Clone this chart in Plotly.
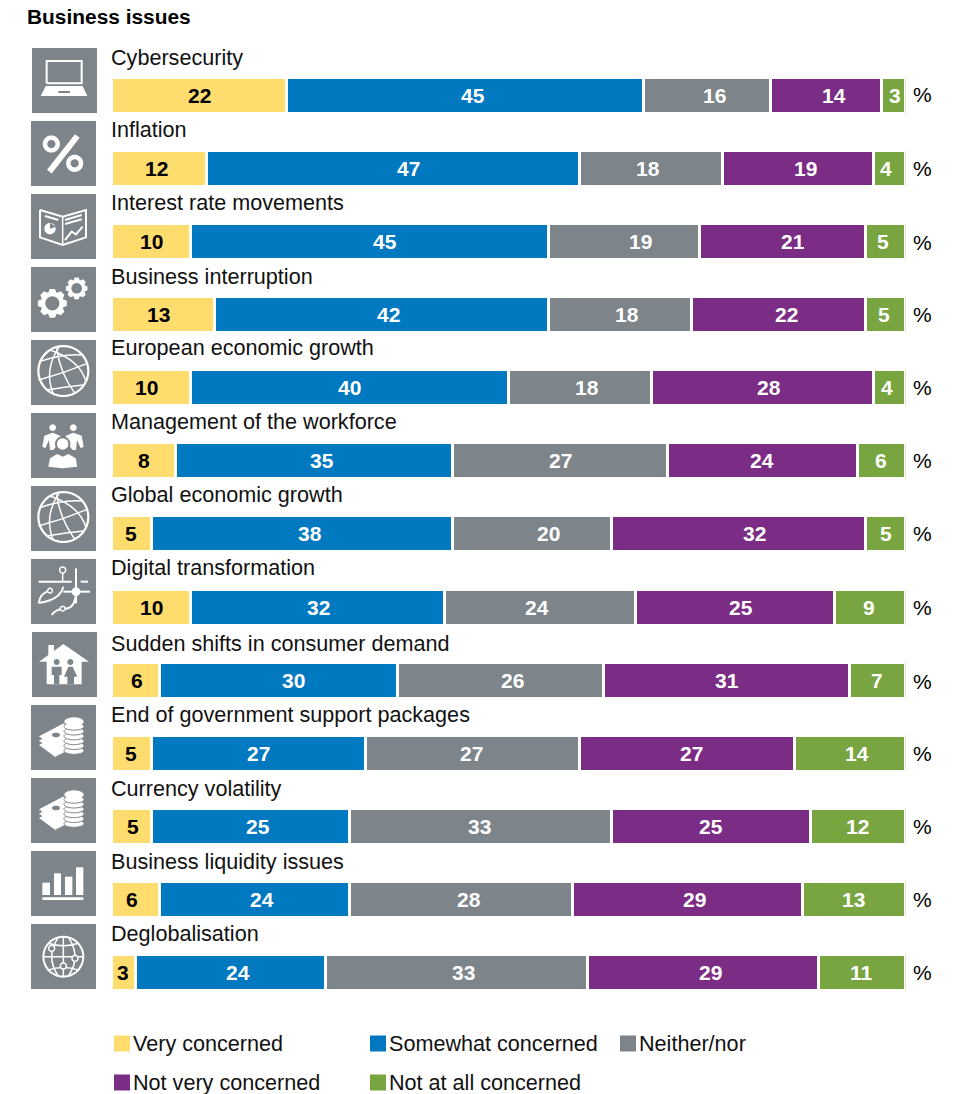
import math
import plotly.graph_objects as go

W, H = 967, 1094
title = "Business issues"
categories = ["Cybersecurity", "Inflation", "Interest rate movements", "Business interruption",
              "European economic growth", "Management of the workforce", "Global economic growth",
              "Digital transformation", "Sudden shifts in consumer demand",
              "End of government support packages", "Currency volatility",
              "Business liquidity issues", "Deglobalisation"]
very = [22, 12, 10, 13, 10, 8, 5, 10, 6, 5, 5, 6, 3]
somewhat = [45, 47, 45, 42, 40, 35, 38, 32, 30, 27, 25, 24, 24]
neither = [16, 18, 19, 18, 18, 27, 20, 24, 26, 27, 33, 28, 33]
not_very = [14, 19, 21, 22, 28, 24, 32, 25, 31, 27, 25, 29, 29]
not_at_all = [3, 4, 5, 5, 4, 6, 5, 9, 7, 14, 12, 13, 11]
series_names = ["Very concerned", "Somewhat concerned", "Neither/nor", "Not very concerned", "Not at all concerned"]
series_values = [very, somewhat, neither, not_very, not_at_all]
colors = ["#FFDC6E", "#0079C1", "#7D848A", "#7B2C85", "#78A540"]
text_colors = ["#000000", "#FFFFFF", "#FFFFFF", "#FFFFFF", "#FFFFFF"]

FONT = "Liberation Sans"
GRAY = "#7D848A"
x0, x1 = 111.5, 905.5
row0, step = 95.5, 73.08
band_top = row0 - step / 2
band_bot = band_top + step * 13
px_per_unit = (x1 - x0) / 100

# where the source set each value label horizontally (page pixels), per row and series
label_centres = [
    [199, 473, 714, 834, 895], [156, 408, 648, 806, 886], [151, 385, 640, 793, 883],
    [158, 389, 627, 786, 884], [146, 350, 587, 769, 887], [144, 322, 560, 762, 881],
    [131, 310, 548, 754, 886], [151, 318, 537, 741, 869], [137, 293, 512, 727, 877],
    [131, 258, 472, 691, 857], [133, 258, 480, 711, 857], [132, 262, 469, 694, 853],
    [123, 238, 464, 710, 861]]

fig = go.Figure()
for name, vals, c in zip(series_names, series_values, colors):
    fig.add_trace(go.Bar(
        y=categories, x=vals, name=name, orientation="h",
        marker=dict(color=c, line=dict(color="white", width=3)),
        hoverinfo="x+y+name"))

def px(x): return x / W
def py(y): return 1 - y / H

shapes, annos = [], []

def zpath(pts, close=False, yoff=0):
    s = ""
    for i, p in enumerate(pts):
        s += ("M" if i == 0 else "L") + f"{px(p[0]/3):.5f},{py(p[1]/3+yoff):.5f} "
    return s + ("Z" if close else "")

def poly(pts, yoff=0, fill="white", lw=0):
    shapes.append(dict(type="path", xref="paper", yref="paper", path=zpath(pts, True, yoff),
                       fillcolor=fill, line=dict(width=lw, color=fill), layer="above"))

def line(pts, yoff=0, lw=1.5, color="white"):
    shapes.append(dict(type="path", xref="paper", yref="paper", path=zpath(pts, False, yoff),
                       line=dict(width=lw, color=color), layer="above"))

def curve(x0_, y0_, cx, cy, x1_, y1_, yoff=0, lw=1.5, color="white"):
    p = f"M{px(x0_/3):.5f},{py(y0_/3+yoff):.5f} Q{px(cx/3):.5f},{py(cy/3+yoff):.5f} {px(x1_/3):.5f},{py(y1_/3+yoff):.5f}"
    shapes.append(dict(type="path", xref="paper", yref="paper", path=p, line=dict(width=lw, color=color), layer="above"))

def circ(cx, cy, r, yoff=0, fill="white", lw=0, stroke=None, ry=None):
    ry = r if ry is None else ry
    pts = [(cx + r * math.cos(i * math.pi / 18), cy + ry * math.sin(i * math.pi / 18)) for i in range(36)]
    shapes.append(dict(type="path", xref="paper", yref="paper", path=zpath(pts, True, yoff),
                       fillcolor=fill, line=dict(width=lw, color=stroke or fill), layer="above"))

def gear(cx, cy, r, yoff, teeth=8):
    pts = []
    for i in range(teeth):
        a = 2 * math.pi * i / teeth
        d = math.pi / teeth
        for da, rr in [(-d * .95, r * .78), (-d * .45, r), (d * .45, r), (d * .95, r * .78)]:
            pts.append((cx + rr * math.cos(a + da), cy + rr * math.sin(a + da)))
    poly(pts, yoff)
    circ(cx, cy, r * .48, yoff, fill=GRAY)

def globe(dy, yoff):
    cx, cy, r = 190, 303 + dy, 75
    circ(cx, cy, r, yoff, fill="rgba(0,0,0,0)", lw=2.2, stroke="white")
    curve(150, 240 + dy, 240, 270 + dy, 258, 335 + dy, yoff)
    curve(118, 275 + dy, 190, 250 + dy, 245, 255 + dy, yoff)
    curve(116, 330 + dy, 190, 310 + dy, 262, 280 + dy, yoff)
    curve(140, 360 + dy, 200, 350 + dy, 250, 345 + dy, yoff)
    curve(178, 230 + dy, 130, 300 + dy, 160, 372 + dy, yoff)
    curve(170, 235 + dy, 180, 310 + dy, 225, 370 + dy, yoff)

def money(dy, yoff):
    for k in range(3):
        poly([(118, 290 + dy + k*13), (190, 252 + dy + k*13), (235, 290 + dy + k*13), (165, 325 + dy + k*13)], yoff,
             fill="white", lw=1)
        line([(118, 291 + dy + k*13), (165, 326 + dy + k*13), (235, 291 + dy + k*13)], yoff, lw=1, color=GRAY)
    circ(168, 285 + dy, 12, yoff, fill=GRAY, ry=7)
    for k in range(6):
        circ(222, 332 - k * 14.5 + dy, 30, yoff, fill="white", lw=1, stroke=GRAY, ry=11)
    circ(222, 245 + dy, 29, yoff, fill="white", ry=13)

tile_left = [32, 31, 31, 31, 31, 31, 31, 31, 32, 31, 31, 31, 31]
tile_top = [48, 121, 194, 267, 340, 413, 486, 559, 632, 705, 778, 851, 924]
for l, t in zip(tile_left, tile_top):
    shapes.append(dict(type="rect", xref="paper", yref="paper", x0=px(l), x1=px(l + 65),
                       y0=py(t), y1=py(t + 65), fillcolor=GRAY, line=dict(width=0), layer="above"))

# laptop
line([(140, 250), (140, 183), (245, 183), (245, 250), (140, 250)], lw=2)
poly([(122, 288), (137, 258), (248, 258), (262, 288)])
poly([(175, 273), (210, 273), (210, 279), (175, 279)], fill=GRAY)
# percent
circ(154, 432, 19, fill="rgba(0,0,0,0)", lw=4.5, stroke="white")
circ(224, 490, 19, fill="rgba(0,0,0,0)", lw=4.5, stroke="white")
line([(232, 408), (148, 515)], lw=6)
# report
line([(120, 630), (188, 650), (258, 630), (258, 712), (188, 735), (120, 712), (120, 630)], lw=2)
line([(188, 650), (188, 735)], lw=1.5)
line([(135, 648), (175, 660)], lw=2)
line([(195, 660), (245, 645)], lw=2)
line([(195, 672), (245, 658)], lw=2)
circ(150, 686, 17)
poly([(150, 686), (150, 668), (168, 680)], fill=GRAY)
line([(195, 720), (215, 695), (228, 703), (248, 680)], lw=2)
# gears
gear(157, 100, 44, 270, 8)
gear(230, 55, 33, 270, 8)
# globes
globe(0, 270)
globe(438, 270)
# people
for cx in (158, 220):
    circ(cx, 473, 10, 270)
poly([(127, 530), (133, 497), (158, 488), (180, 497), (186, 510), (160, 540), (150, 540), (147, 510), (136, 535)], 270)
poly([(251, 530), (245, 497), (220, 488), (198, 497), (192, 510), (218, 540), (228, 540), (231, 510), (242, 535)], 270)
circ(188, 522, 23, 270, fill=GRAY)
circ(188, 522, 17, 270)
poly([(138, 600), (145, 565), (172, 548), (205, 548), (232, 565), (238, 600), (188, 606)], 270, fill=GRAY)
poly([(145, 590), (150, 565), (172, 552), (188, 560), (205, 552), (227, 565), (232, 590), (188, 595)], 270)
# digital transformation
circ(188, 900, 9, 270, fill="rgba(0,0,0,0)", lw=1.5, stroke="white")
line([(188, 909), (188, 935)], 270)
line([(116, 935), (215, 935)], 270, lw=2)
line([(242, 935), (264, 935)], 270, lw=2)
line([(228, 895), (228, 1000)], 270, lw=2)
line([(190, 965), (270, 965)], 270, lw=2)
circ(228, 965, 13, 270)
curve(116, 1000, 120, 970, 148, 962, 270, lw=2)
circ(150, 962, 7, 270, fill=GRAY, lw=1.5, stroke="white")
curve(118, 998, 180, 990, 190, 950, 270, lw=2)
curve(155, 1035, 165, 1020, 185, 1017, 270, lw=2)
circ(188, 1016, 7, 270, fill=GRAY, lw=1.5, stroke="white")
curve(195, 1016, 225, 1015, 228, 970, 270, lw=2)
# house
poly([(117, 65), (145, 45), (145, 15), (162, 15), (162, 33), (190, 12), (267, 65), (245, 65), (245, 133), (140, 133), (140, 65)], 640)
for cx in (170, 211):
    circ(cx, 66, 9, 640, fill=GRAY)
poly([(155, 80), (185, 80), (185, 105), (178, 105), (178, 133), (162, 133), (162, 105), (155, 105)], 640, fill=GRAY)
poly([(205, 80), (218, 80), (232, 110), (222, 110), (222, 133), (202, 133), (202, 110), (192, 110)], 640, fill=GRAY)
# money stacks
money(0, 640)
money(219, 640)
# bar icon
for a, b, top in [(127, 150, 728), (162, 183, 700), (195, 217, 710), (228, 250, 682)]:
    poly([(a, top), (b, top), (b, 765), (a, 765)], 640)
poly([(127, 772), (250, 772), (250, 780), (127, 780)], 640)
# small globe
circ(190, 950, 60, 640, fill="rgba(0,0,0,0)", lw=2, stroke="white")
line([(130, 950), (250, 950)], 640)
line([(190, 890), (190, 1010)], 640)
curve(145, 910, 190, 925, 235, 910, 640)
curve(145, 990, 190, 975, 235, 990, 640)
curve(175, 892, 135, 950, 175, 1008, 640)
curve(205, 892, 245, 950, 205, 1008, 640)
for cx, cy in [(155, 925), (225, 955), (190, 978)]:
    circ(cx, cy, 9, 640, fill=GRAY, lw=1.5, stroke="white")

# value labels, anchored on each segment and nudged to where the source set them
for r, cat in enumerate(categories):
    cum = 0
    for s, vals in enumerate(series_values):
        v = vals[r]
        mid = cum + v / 2
        shift = label_centres[r][s] - (x0 + mid * px_per_unit)
        annos.append(dict(xref="x", yref="y", x=mid, y=cat, text=str(v), showarrow=False,
                          xshift=shift, xanchor="center", yanchor="middle",
                          font=dict(family=FONT, size=21, color=text_colors[s], weight="bold")))
        cum += v

# category labels
label_y = [58, 129, 203, 276, 348, 421, 494, 568, 643, 714, 788, 861, 933]
for c, y in zip(categories, label_y):
    annos.append(dict(xref="paper", yref="paper", x=px(111), y=py(y), text=c, showarrow=False,
                      xanchor="left", yanchor="middle", xshift=-2, font=dict(family=FONT, size=21.6, color="#111111")))
# percent signs
pct_y = [94.5, 168, 242, 314.5, 387.5, 460.5, 533.5, 607.5, 681, 753.5, 826.5, 899.5, 972.5]
for y in pct_y:
    annos.append(dict(xref="paper", yref="paper", x=px(913), y=py(y), text="%", showarrow=False,
                      xanchor="left", yanchor="middle", xshift=-2.5, font=dict(family=FONT, size=21, color="#000000")))
# title
annos.append(dict(xref="paper", yref="paper", x=px(27), y=py(16.5), text=title, showarrow=False,
                  xanchor="left", yanchor="middle", xshift=-2, font=dict(family=FONT, size=20.9, color="#000000", weight="bold")))
# legend
legend_pos = [(114, 1043.5), (370, 1043.5), (620, 1043.5), (114, 1082.5), (370, 1082.5)]
for name, c, (lx, ly) in zip(series_names, colors, legend_pos):
    shapes.append(dict(type="rect", xref="paper", yref="paper", x0=px(lx), x1=px(lx + 16),
                       y0=py(ly - 8), y1=py(ly + 8), fillcolor=c, line=dict(width=0)))
    annos.append(dict(xref="paper", yref="paper", x=px(lx + 20), y=py(ly - 0.5), text=name, showarrow=False,
                      xanchor="left", yanchor="middle", xshift=-2, borderpad=0,
                      font=dict(family=FONT, size=21.6, color="#111111")))

fig.update_layout(
    width=W, height=H, margin=dict(l=0, r=0, t=0, b=0), autosize=False,
    barmode="stack", bargap=1 - 36 / step, showlegend=False,
    paper_bgcolor="white", plot_bgcolor="white", font=dict(family=FONT),
    xaxis=dict(domain=[x0 / W, x1 / W], range=[0, 100], visible=False, fixedrange=True),
    yaxis=dict(domain=[1 - band_bot / H, 1 - band_top / H], autorange=False, range=[12.5, -0.5],
               visible=False, type="category", categoryorder="array", categoryarray=categories, fixedrange=True),
    shapes=shapes, annotations=annos)
fig.write_html("out.html", config={"displayModeBar": False},
               post_script="document.body.style.margin='0';document.documentElement.style.overflow='hidden';")
